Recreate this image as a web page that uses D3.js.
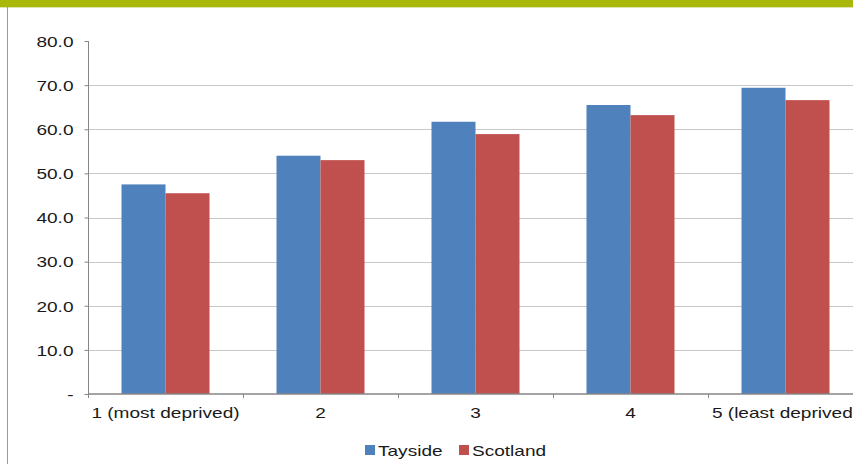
<!DOCTYPE html>
<html>
<head>
<meta charset="utf-8">
<script src="https://cdn.jsdelivr.net/npm/d3@7"></script>
<style>
  html, body { margin: 0; padding: 0; background: #fff; overflow: hidden; }
  svg { display: block; }
  text { font-family: "Liberation Sans", Arial, sans-serif; fill: #1a1a1a; }
</style>
</head>
<body>
<svg id="chart" width="853" height="464"></svg>
<script>
const categories = ["1 (most deprived)", "2", "3", "4", "5 (least deprived)"];
const seriesNames = ["Tayside", "Scotland"];
const tayside = [47.5, 54.0, 61.7, 65.5, 69.4];
const scotland = [45.5, 53.0, 58.9, 63.2, 66.6];
const yTicks = [0, 10, 20, 30, 40, 50, 60, 70, 80];
const yTickLabels = ["-", "10.0", "20.0", "30.0", "40.0", "50.0", "60.0", "70.0", "80.0"];
const colors = ["#4f81bd", "#c0504d"];

const W = 853, H = 464;
const svg = d3.select("#chart");
const STRETCH = 1.27;

function stretchText(sel) {
  sel.each(function () {
    const w = this.getComputedTextLength();
    if (w > 0) {
      d3.select(this).attr("textLength", w * STRETCH).attr("lengthAdjust", "spacingAndGlyphs");
    }
  });
}

// top band and left border
svg.append("rect").attr("x", 0).attr("y", 0).attr("width", W).attr("height", 7).attr("fill", "#a9b80b");
svg.append("rect").attr("x", 0).attr("y", 7).attr("width", W).attr("height", 1).attr("fill", "#dfe4b0");
svg.append("line").attr("x1", 7.5).attr("x2", 7.5).attr("y1", 7).attr("y2", H)
  .attr("stroke", "#9a9a9a").attr("stroke-width", 1);

const x0 = d3.scaleBand().domain(categories).range([88, 863]).paddingInner(0).paddingOuter(0);
const groupW = 88;
const x1 = d3.scaleBand().domain(seriesNames).range([0, groupW]).padding(0);
const y = d3.scaleLinear().domain([0, 80]).range([394, 41]);

// gridlines
svg.append("g").selectAll("line").data(yTicks.filter(t => t > 0 && t < 80)).join("line")
  .attr("x1", 88).attr("x2", W)
  .attr("y1", d => Math.round(y(d)) + 0.5).attr("y2", d => Math.round(y(d)) + 0.5)
  .attr("stroke", "#c8c8c8").attr("stroke-width", 1);

// bars
const data = categories.map((c, i) => ({ cat: c, vals: [tayside[i], scotland[i]] }));
const groups = svg.append("g").selectAll("g").data(data).join("g")
  .attr("transform", d => `translate(${x0(d.cat) + (x0.bandwidth() - groupW) / 2},0)`);
groups.selectAll("rect").data(d => d.vals.map((v, j) => ({ name: seriesNames[j], v, j }))).join("rect")
  .attr("x", d => x1(d.name))
  .attr("width", x1.bandwidth())
  .attr("y", d => y(d.v))
  .attr("height", d => y(0) - y(d.v))
  .attr("fill", d => colors[d.j]);

// y axis
const yAxis = d3.axisLeft(y).tickValues(yTicks).tickSize(4)
  .tickFormat((d, i) => yTickLabels[i]);
const gy = svg.append("g").attr("transform", "translate(88.5,0)").call(yAxis);
gy.select(".domain").attr("stroke", "#868686").attr("d", `M0,${y(80)}V${y(0)}`);
gy.selectAll(".tick line").attr("stroke", "#868686");
gy.selectAll(".tick text").attr("x", -15).attr("dy", "0.35em")
  .style("font-size", "15px").style("font-family", "'Liberation Sans', Arial, sans-serif")
  .attr("fill", "#1a1a1a").call(stretchText);

// x axis
const xAxis = d3.axisBottom(x0).tickSize(0).tickPadding(13);
const gx = svg.append("g").attr("transform", `translate(0,${y(0)})`).call(xAxis);
gx.select(".domain").attr("stroke", "#868686").attr("stroke-width", 1.5).attr("d", `M88,0H${W}`);
gx.selectAll(".tick text").style("font-size", "15px")
  .style("font-family", "'Liberation Sans', Arial, sans-serif").attr("fill", "#1a1a1a")
  .call(stretchText);
// category boundary ticks
svg.append("g").selectAll("line").data(categories).join("line")
  .attr("x1", d => x0(d) + 0.5).attr("x2", d => x0(d) + 0.5)
  .attr("y1", y(0)).attr("y2", y(0) + 4)
  .attr("stroke", "#868686");

// legend
const legend = svg.append("g");
const legendX = [365, 459];
seriesNames.forEach((name, i) => {
  legend.append("rect").attr("x", legendX[i]).attr("y", 445).attr("width", 10).attr("height", 10)
    .attr("fill", colors[i]);
  legend.append("text").attr("x", legendX[i] + 13).attr("y", 455.5)
    .style("font-size", "15px").text(name).call(stretchText);
});
</script>
</body>
</html>
